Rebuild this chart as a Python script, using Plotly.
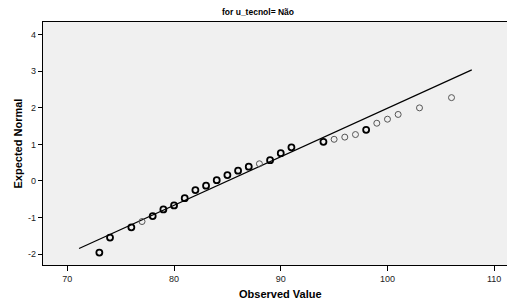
import plotly.graph_objects as go

# Observed values, expected normal quantiles, and number of cases at each point
observed = [73, 74, 76, 77, 78, 79, 80, 81, 82, 83, 84, 85, 86, 87, 88, 89, 90, 91,
            94, 95, 96, 97, 98, 99, 100, 101, 103, 106]
expected = [-1.96, -1.55, -1.27, -1.11, -0.96, -0.78, -0.67, -0.47, -0.25, -0.13,
            0.02, 0.16, 0.28, 0.39, 0.47, 0.57, 0.76, 0.92,
            1.07, 1.14, 1.20, 1.27, 1.40, 1.58, 1.69, 1.82, 2.00, 2.28]
counts = [2, 2, 2, 1, 2, 2, 2, 2, 2, 2, 2, 2, 2, 2, 1, 2, 2, 2,
          2, 1, 1, 1, 2, 1, 1, 1, 1, 1]

# Reference line endpoints
line_x = [71.1, 107.9]
line_y = [-1.85, 3.04]

x_ticks = [70, 80, 90, 100, 110]
y_ticks = [-2, -1, 0, 1, 2, 3, 4]

title_text = "for u_tecnol= Não"
x_title = "Observed Value"
y_title = "Expected Normal"

fig = go.Figure()

fig.add_trace(go.Scatter(
    x=line_x, y=line_y, mode="lines",
    line=dict(color="black", width=1.2),
    hoverinfo="skip", showlegend=False,
))

widths = [1.0 if c == 1 else 1.8 for c in counts]
colors = ["#555555" if c == 1 else "black" for c in counts]
fig.add_trace(go.Scatter(
    x=observed, y=expected, mode="markers",
    marker=dict(symbol="circle-open", size=6, color=colors,
                line=dict(color=colors, width=widths)),
    showlegend=False,
))

fig.update_layout(
    width=507, height=300,
    margin=dict(l=43, r=0, t=22, b=35),
    paper_bgcolor="white",
    plot_bgcolor="#f0f0f0",
    font=dict(family="Arial, Liberation Sans, sans-serif", size=9, color="black"),
    annotations=[
        dict(text="<b>" + title_text + "</b>", xref="paper", yref="paper",
             x=(258 - 43) / 464, y=1, yshift=3, xanchor="center", yanchor="bottom",
             showarrow=False, font=dict(size=8.5, color="black")),
        dict(text="<b>" + y_title + "</b>", xref="paper", yref="paper",
             x=0, xshift=-26, y=0.5, xanchor="center", yanchor="middle",
             textangle=-90, showarrow=False, font=dict(size=11, color="black")),
        dict(text="<b>" + x_title + "</b>", xref="paper", yref="paper",
             x=(280 - 43) / 464, y=0, yshift=-21, xanchor="center", yanchor="top",
             showarrow=False, font=dict(size=11, color="black")),
    ],
)

fig.update_xaxes(
    range=[67.72, 111.2], tickvals=x_ticks, ticktext=[str(v) for v in x_ticks],
    showgrid=False, zeroline=False, showline=True, linecolor="black", linewidth=1.2,
    mirror=True, ticks="outside", ticklen=5, tickcolor="black", tickwidth=1,
    tickfont=dict(size=9, color="#222222"),
)
fig.update_yaxes(
    range=[-2.30, 4.35], tickvals=y_ticks, ticktext=[str(v) for v in y_ticks],
    showgrid=False, zeroline=False, showline=True, linecolor="black", linewidth=1.2,
    ticks="outside", ticklen=4, tickcolor="black", tickwidth=1,
    tickfont=dict(size=9, color="#222222"),
)

fig.write_html("out.html", config={"displayModeBar": False},
               post_script="document.body.style.margin='0';document.body.style.overflow='hidden';")
